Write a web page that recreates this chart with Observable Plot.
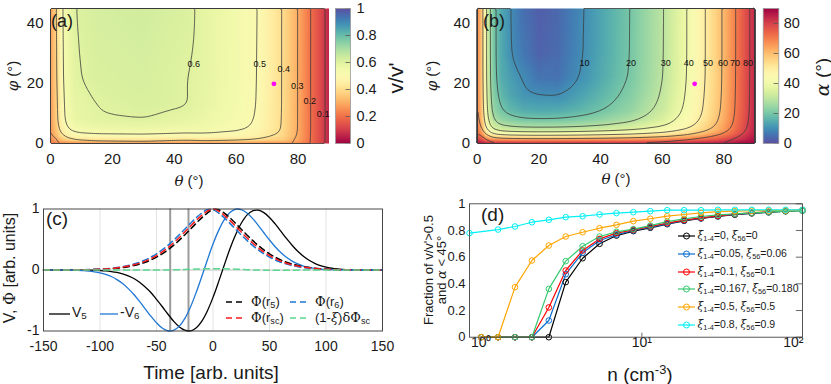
<!DOCTYPE html>
<html><head><meta charset="utf-8">
<script src="https://cdn.jsdelivr.net/npm/d3@7"></script>
<script src="https://cdn.jsdelivr.net/npm/@observablehq/plot@0.6"></script>
<style>
body{margin:0;background:#fff;}
#root{position:relative;width:831px;height:384px;overflow:hidden;background:#fff;font-family:'Liberation Sans',Arial,Helvetica,sans-serif;color:#1a1a1a;}
.abs{position:absolute;white-space:nowrap;line-height:1;}
.c{transform:translate(-50%,-50%);}
.r{transform:translate(-50%,-50%) rotate(-90deg);}
.lv{transform:translateY(-50%);}
.g{font-family:'DejaVu Serif','Liberation Serif',serif;}
.gi{font-family:'DejaVu Serif','Liberation Serif',serif;font-style:italic;}
sub{font-size:0.7em;vertical-align:-0.25em;line-height:0}
sup{font-size:0.68em;vertical-align:0.5em;line-height:0}
</style></head><body><div id="root"></div><script>
// ---------- panel (a): v/v' on a (theta, phi) grid ----------
const thetaA = [0,1,2,3.5,5,8,15,30,44,50,60,67,75,80,84,88,90];
const phiA = [0,0.5,1,2.5,5,8,13,22,45];
const vA = [
 [0.20,0.22,0.235,0.255,0.265,0.272,0.281,0.284,0.275,0.279,0.279,0.279,0.275,0.257,0.196,0.11,0.06],
 [0.21,0.24,0.255,0.27,0.28,0.29,0.30,0.303,0.294,0.299,0.299,0.298,0.292,0.267,0.197,0.11,0.06],
 [0.23,0.27,0.29,0.33,0.355,0.384,0.397,0.401,0.389,0.398,0.395,0.389,0.359,0.292,0.20,0.11,0.06],
 [0.25,0.30,0.33,0.40,0.444,0.484,0.500,0.506,0.490,0.498,0.483,0.461,0.390,0.299,0.20,0.11,0.06],
 [0.26,0.315,0.36,0.45,0.50,0.545,0.563,0.569,0.551,0.548,0.521,0.486,0.397,0.30,0.20,0.11,0.06],
 [0.267,0.324,0.371,0.476,0.528,0.576,0.595,0.602,0.583,0.566,0.533,0.493,0.399,0.30,0.20,0.11,0.06],
 [0.269,0.327,0.375,0.481,0.534,0.582,0.601,0.615,0.603,0.578,0.541,0.498,0.40,0.30,0.20,0.11,0.06],
 [0.275,0.334,0.383,0.492,0.546,0.595,0.614,0.621,0.602,0.584,0.544,0.50,0.40,0.30,0.20,0.11,0.06],
 [0.28,0.34,0.39,0.50,0.555,0.605,0.625,0.632,0.612,0.585,0.545,0.502,0.40,0.30,0.20,0.11,0.06]
];
const levelsA = [0.1,0.2,0.3,0.4,0.5,0.6];
const labelThetaA = [46.3,67.6,75.4,79.7,83.8,88.1];
const labelPhiA = [26.3,26.6,24.7,19.1,14.2,9.8];
const labelTextA = ["0.6","0.5","0.4","0.3","0.2","0.1"];
const markA = {theta: 72.2, phi: 19.9};

// ---------- panel (b): alpha on a (theta, phi) grid ----------
const thetaB = [0,1,2.2,2.7,3.8,5.4,8,10.8,15,20,26,34.6,42,49.7,55,60.7,68.1,74,79.5,83.8,88.1,90];
const phiB = [0,0.3,1,1.7,2.6,3.4,4.8,7.8,11,15.8,22,30,45];
const alphaB = [
 [88.1,87.7,86.8,86.2,85.7,85.3,85.1,85.1,85.0,85.0,85.0,85.1,85.2,85.3,85.5,85.7,86.2,86.8,87.5,88.3,89.1,89.5],
 [86.3,85.3,83.6,82.4,81.4,80.6,80.3,80.2,80.0,80.0,80.0,80.2,80.3,80.6,80.9,81.4,82.4,83.6,85.0,86.6,88.3,89.0],
 [82.6,80.8,77.3,74.8,72.8,71.3,70.6,70.3,70.1,70.0,70.1,70.3,70.7,71.3,71.9,72.8,74.8,77.3,80.2,83.3,86.6,88.0],
 [79.2,76.4,71.3,67.5,64.3,62.0,61.0,60.5,60.1,60.0,60.1,60.5,61.1,62.0,63.1,64.3,67.5,71.3,75.5,80.2,85.0,87.0],
 [76.1,72.4,65.6,60.5,56.2,52.8,51.4,50.7,50.2,50.0,50.1,50.7,51.6,52.8,54.4,56.2,60.5,65.6,71.3,77.3,83.6,86.1],
 [73.3,68.9,60.5,54.1,48.4,44.0,42.0,41.0,40.3,40.1,40.2,41.0,42.3,44.0,46.0,48.4,54.1,60.5,67.5,74.8,82.4,85.4],
 [71.1,66.0,56.2,48.4,41.4,35.5,32.8,31.5,30.4,30.1,30.3,31.5,33.2,35.5,38.3,41.4,48.4,56.2,64.3,72.8,81.4,84.8],
 [69.4,63.8,52.8,44.0,35.5,28.0,24.2,22.3,20.6,20.2,20.4,22.3,24.8,28.0,31.6,35.5,44.0,52.8,62.0,71.3,80.6,84.4],
 [68.7,62.9,51.4,42.0,32.8,24.2,19.7,17.1,14.9,14.2,14.6,17.1,20.4,24.2,28.4,32.8,42.0,51.4,61.0,70.6,80.3,84.2],
 [68.3,62.4,50.7,40.9,31.3,22.1,16.9,13.8,11.3,10.2,9.9,13.8,17.7,22.1,26.6,31.3,40.9,50.7,60.4,70.3,80.1,84.1],
 [68.1,62.1,50.1,40.2,30.3,20.5,14.7,12.5,9.5,6.0,5.5,11.0,15.7,20.5,25.4,30.3,40.2,50.1,60.1,70.1,80.0,84.0],
 [68.0,62.0,50.0,40.0,30.1,20.1,14.1,10.2,6.5,3.2,4.5,10.2,15.1,20.1,25.1,30.1,40.0,50.0,60.0,70.0,80.0,84.0],
 [68,62,50,40,30,20,14,10,5,2.5,4,10,15,20,25,30,40,50,60,70,80,84]
];
const levelsB = [10,20,30,40,50,60,70,80];
const labelThetaB = [34.8,49.9,61.1,68.6,74.8,79.7,83.6,87.8];
const labelPhiB = 26.8;
const labelTextB = ["10","20","30","40","50","60","70","80"];
const markB = {theta: 70.5, phi: 19.9};

const thetaTicks = [0,20,40,60,80];
const phiTicks = [0,20,40];
const cbTicksA = [0,0.2,0.4,0.6,0.8,1];
const cbTicksB = [0,20,40,60,80];

// ---------- panel (c): time series ----------
const time = [-150,-145,-140,-135,-130,-125,-120,-115,-110,-105,-100,-95,-90,-85,-80,-75,-70,-65,-60,-55,-50,-45,-40,-35,-30,-25,-20,-15,-10,-5,0,5,10,15,20,25,30,35,40,45,50,55,60,65,70,75,80,85,90,95,100,105,110,115,120,125,130,135,140,145,150];
const V5 = [0,0,0,0,0,0,-0.001,-0.0015,-0.003,-0.005,-0.009,-0.015,-0.025,-0.040,-0.063,-0.096,-0.140,-0.201,-0.279,-0.368,-0.481,-0.598,-0.721,-0.836,-0.929,-0.986,-0.998,-0.950,-0.841,-0.671,-0.449,-0.191,0.082,0.349,0.577,0.766,0.90,0.97,0.98,0.94,0.86,0.755,0.637,0.517,0.406,0.307,0.226,0.160,0.110,0.073,0.047,0.030,0.018,0.011,0.006,0.003,0.002,0.001,0,0,0];
const negV6 = [0,0,-0.001,-0.001,-0.002,-0.004,-0.006,-0.010,-0.017,-0.029,-0.046,-0.071,-0.107,-0.158,-0.222,-0.305,-0.401,-0.515,-0.636,-0.757,-0.866,-0.951,-0.996,-0.990,-0.924,-0.796,-0.609,-0.374,-0.110,0.164,0.425,0.650,0.826,0.942,0.996,0.990,0.936,0.846,0.733,0.611,0.492,0.382,0.286,0.208,0.146,0.099,0.065,0.042,0.026,0.015,0.009,0.005,0.003,0.001,0,0,0,0,0,0,0];
const phiR5 = [0,0,0.001,0.001,0.001,0.002,0.003,0.0035,0.005,0.007,0.011,0.015,0.021,0.029,0.040,0.055,0.074,0.098,0.128,0.165,0.211,0.265,0.329,0.403,0.485,0.575,0.669,0.764,0.855,0.933,0.988,0.988,0.933,0.855,0.764,0.669,0.575,0.485,0.403,0.329,0.265,0.211,0.165,0.128,0.098,0.074,0.055,0.040,0.029,0.021,0.015,0.011,0.007,0.005,0.0035,0.003,0.002,0.001,0.001,0.001,0];
const phiR6 = [0,0.001,0.001,0.001,0.002,0.003,0.0035,0.005,0.007,0.011,0.015,0.021,0.029,0.040,0.055,0.074,0.098,0.128,0.165,0.211,0.265,0.329,0.403,0.485,0.575,0.669,0.764,0.855,0.933,0.988,0.988,0.933,0.855,0.764,0.669,0.575,0.485,0.403,0.329,0.265,0.211,0.165,0.128,0.098,0.074,0.055,0.040,0.029,0.021,0.015,0.011,0.007,0.005,0.0035,0.003,0.002,0.001,0.001,0.001,0,0];
const phiRsc = [0,0,0.001,0.001,0.0015,0.002,0.003,0.004,0.006,0.009,0.013,0.018,0.025,0.035,0.047,0.064,0.085,0.112,0.145,0.187,0.237,0.296,0.365,0.443,0.529,0.622,0.717,0.811,0.896,0.965,1.0,0.965,0.896,0.811,0.717,0.622,0.529,0.443,0.365,0.296,0.237,0.187,0.145,0.112,0.085,0.064,0.047,0.035,0.025,0.018,0.013,0.009,0.006,0.004,0.003,0.002,0.0015,0.001,0.001,0,0];
const dPhiSc = [0,0,0,0,0,0,0,0,0,0,0,0,0,0,0,0,0,0,0,0,0,0,0.002,0.004,0.006,0.009,0.012,0.015,0.018,0.02,0.022,0.022,0.02,0.018,0.014,0.01,0.006,0.002,-0.001,-0.003,-0.004,-0.005,-0.005,-0.004,-0.003,-0.002,-0.001,0,0,0,0,0,0,0,0,0,0,0,0,0,0];
const timeTicks = [-150,-100,-50,0,50,100,150];
const timeGrid = [-100,-50,0,50,100];
const markerTimes = [-37.9,-21.7];

// ---------- panel (d): fraction vs density ----------
const nVals = [1,1.274,1.624,2.069,2.637,3.360,4.281,5.456,6.952,8.859,11.29,14.38,18.33,23.36,29.76,37.93,48.33,61.58,78.48,100];
const nCyan = [0.846,1.274,1.624,2.069,2.637,3.360,4.281,5.456,6.952,8.859,11.29,14.38,18.33,23.36,29.76,37.93,48.33,61.58,78.48,100];
const fBlack = [0,0,0,0,0,0.413,0.592,0.70,0.762,0.795,0.82,0.847,0.872,0.89,0.905,0.918,0.928,0.936,0.944,0.95];
const fBlue = [0,0,0,0,0.125,0.472,0.633,0.725,0.768,0.80,0.825,0.85,0.875,0.892,0.907,0.92,0.93,0.937,0.945,0.95];
const fRed = [0,0,0,0,0.223,0.50,0.65,0.737,0.78,0.805,0.83,0.855,0.878,0.895,0.91,0.922,0.932,0.94,0.946,0.95];
const fGreen = [0,0,0,0,0.362,0.57,0.682,0.755,0.79,0.81,0.837,0.867,0.887,0.905,0.917,0.925,0.932,0.937,0.945,0.947];
const fOrange = [0,0,0.375,0.575,0.687,0.755,0.787,0.817,0.842,0.87,0.888,0.907,0.92,0.932,0.942,0.945,0.948,0.95,0.95,0.955];
const fCyan = [0.78,0.807,0.83,0.862,0.88,0.90,0.907,0.92,0.93,0.937,0.945,0.952,0.952,0.952,0.955,0.955,0.955,0.955,0.955,0.955];
const xi14 = ["0","0.05","0.1","0.167","0.5","0.8"];
const xi56 = ["0","0.06","0.1","0.180","0.5","0.9"];
const seriesColors = ["#000000","#0a6fd0","#ff0000","#34c96f","#ffa500","#00f0f5"];
const fracTicks = [0,0.2,0.4,0.6,0.8,1];
const decadeTicks = [1,10];
const decadeLabels = ["10\u2070","10\u00b9"];
const lastDecade = [100];

// ---------- helpers ----------
const root = document.getElementById("root");
const FONT = "'Liberation Sans', Arial, Helvetica, sans-serif";
function put(node, left, top) {
  node.style.position = "absolute"; node.style.left = left + "px"; node.style.top = top + "px";
  root.appendChild(node); return node;
}
function label(html, x, y, cls, size, extra) {
  const d = document.createElement("div");
  d.className = "abs " + cls; d.innerHTML = html;
  d.style.left = x + "px"; d.style.top = y + "px"; d.style.fontSize = size + "px";
  if (extra) d.style.cssText += extra;
  root.appendChild(d);
}
function sample(x1, x2, y, color, dash, circle, width) {
  const ns = "http://www.w3.org/2000/svg";
  const s = document.createElementNS(ns, "svg");
  s.setAttribute("width", x2 - x1 + 8); s.setAttribute("height", 12);
  s.style.position = "absolute"; s.style.left = (x1 - 4) + "px"; s.style.top = (y - 6) + "px"; s.style.overflow = "visible";
  const l = document.createElementNS(ns, "line");
  l.setAttribute("x1", 4); l.setAttribute("x2", x2 - x1 + 4); l.setAttribute("y1", 6); l.setAttribute("y2", 6);
  l.setAttribute("stroke", color); l.setAttribute("stroke-width", width || 1.4);
  if (dash) l.setAttribute("stroke-dasharray", dash);
  s.appendChild(l);
  if (circle) {
    const c = document.createElementNS(ns, "circle");
    c.setAttribute("cx", (x2 - x1) / 2 + 4); c.setAttribute("cy", 6); c.setAttribute("r", 3);
    c.setAttribute("fill", "none"); c.setAttribute("stroke", color); c.setAttribute("stroke-width", 1);
    s.appendChild(c);
  }
  root.appendChild(s);
}
const baseStyle = (size) => ({fontFamily: FONT, fontSize: size + "px", color: "#1a1a1a", background: "transparent", overflow: "visible"});

// ---------- build (a) ----------
const gridA = phiA.flatMap((p, i) => thetaA.map((t, j) => ({theta: t, phi: p, v: vA[i][j]})));
const labelsA = labelTextA.map((s, i) => ({theta: labelThetaA[i], phi: labelPhiA[i], label: s}));
const plotA = Plot.plot({
  width: 335, height: 195, marginLeft: 50, marginRight: 6.5, marginTop: 8, marginBottom: 52,
  style: baseStyle(15),
  x: {domain: [0, 90], ticks: thetaTicks, tickSize: 0, tickPadding: 10, label: null},
  y: {domain: [0, 45], ticks: phiTicks, tickSize: 0, tickPadding: 7, label: null},
  color: {type: "linear", scheme: "spectral", domain: [0, 1]},
  marks: [
    Plot.raster(gridA, {x: "theta", y: "phi", fill: "v", interpolate: "barycentric", x1: 0, x2: 90, y1: 0, y2: 45}),
    Plot.contour(gridA, {x: "theta", y: "phi", value: "v", interpolate: "barycentric", blur: 2, thresholds: levelsA, x1: 0, x2: 90, y1: 0, y2: 45, stroke: "#3a3a3a", strokeWidth: 0.8, fill: "none"}),
    Plot.text(labelsA, {x: "theta", y: "phi", text: "label", fontSize: 9, fill: "#111"}),
    Plot.dot([markA], {x: "theta", y: "phi", fill: "#ff00ff", r: 2.4})
  ]
});
put(plotA, 0, 0);

const cbA = Plot.plot({
  width: 90, height: 195, marginLeft: 5, marginRight: 70, marginTop: 8, marginBottom: 52,
  style: baseStyle(14.5),
  x: {domain: [0, 1], axis: null},
  y: {domain: [0, 1], axis: "right", ticks: cbTicksA, tickFormat: d => String(d), tickSize: 0, tickPadding: 6, label: null},
  color: {type: "linear", scheme: "spectral", domain: [0, 1]},
  marks: [
    Plot.raster({fill: (x, y) => y, x1: 0, x2: 1, y1: 0, y2: 1}),
    Plot.ruleY(cbTicksA, {x1: 0.7, x2: 1, stroke: "#555", strokeWidth: 0.8}),
    Plot.frame({stroke: "#999", strokeWidth: 0.8})
  ]
});
put(cbA, 330, 0);

// ---------- build (b) ----------
const gridB = phiB.flatMap((p, i) => thetaB.map((t, j) => ({theta: t, phi: p, a: alphaB[i][j]})));
const labelsB = labelTextB.map((s, i) => ({theta: labelThetaB[i], phi: labelPhiB, label: s}));
const plotB = Plot.plot({
  width: 340, height: 195, marginLeft: 56.7, marginRight: 5.7, marginTop: 8, marginBottom: 52,
  style: baseStyle(15),
  x: {domain: [0, 90], ticks: thetaTicks, tickSize: 0, tickPadding: 10, label: null},
  y: {domain: [0, 45], ticks: phiTicks, tickSize: 0, tickPadding: 7, label: null},
  color: {type: "linear", scheme: "spectral", reverse: true, domain: [0, 90]},
  marks: [
    Plot.raster(gridB, {x: "theta", y: "phi", fill: "a", interpolate: "barycentric", x1: 0, x2: 90, y1: 0, y2: 45}),
    Plot.contour(gridB, {x: "theta", y: "phi", value: "a", interpolate: "barycentric", blur: 2, thresholds: levelsB, x1: 0, x2: 90, y1: 0, y2: 45, stroke: "#3a3a3a", strokeWidth: 0.8, fill: "none"}),
    Plot.text(labelsB, {x: "theta", y: "phi", text: "label", fontSize: 9, fill: "#111"}),
    Plot.dot([markB], {x: "theta", y: "phi", fill: "#ff00ff", r: 2.4})
  ]
});
put(plotB, 420, 0);

const cbB = Plot.plot({
  width: 76, height: 195, marginLeft: 7.7, marginRight: 52.7, marginTop: 8, marginBottom: 52,
  style: baseStyle(14.5),
  x: {domain: [0, 1], axis: null},
  y: {domain: [0, 90], axis: "right", ticks: cbTicksB, tickSize: 0, tickPadding: 5, label: null},
  color: {type: "linear", scheme: "spectral", reverse: true, domain: [0, 90]},
  marks: [
    Plot.raster({fill: (x, y) => y, x1: 0, x2: 1, y1: 0, y2: 90}),
    Plot.ruleY(cbTicksB, {x1: 0.7, x2: 1, stroke: "#555", strokeWidth: 0.8}),
    Plot.frame({stroke: "#999", strokeWidth: 0.8})
  ]
});
put(cbB, 755, 0);

// ---------- build (c) ----------
const ser = (arr) => time.map((t, i) => ({t, v: arr[i]}));
const plotC = Plot.plot({
  width: 420, height: 189, marginLeft: 43, marginRight: 38, marginTop: 13.5, marginBottom: 53.5,
  style: baseStyle(14),
  x: {domain: [-150, 150], ticks: timeTicks, tickFormat: d => String(d), tickSize: 0, tickPadding: 10, label: null},
  y: {domain: [-1, 1], ticks: [-1, 0, 1], tickFormat: d => String(d), tickSize: 0, tickPadding: 4, label: null},
  marks: [
    Plot.ruleX(timeGrid, {stroke: "#e3e3e3"}),
    Plot.ruleY([0], {stroke: "#c2c2c2"}),
    Plot.ruleX(markerTimes, {stroke: "#9c9c9c", strokeWidth: 2}),
    Plot.line(ser(V5), {x: "t", y: "v", stroke: "#000", strokeWidth: 1.3, curve: "catmull-rom"}),
    Plot.line(ser(negV6), {x: "t", y: "v", stroke: "#1f77d4", strokeWidth: 1.3, curve: "catmull-rom"}),
    Plot.line(ser(phiR5), {x: "t", y: "v", stroke: "#000", strokeWidth: 1.5, strokeDasharray: "6,4", curve: "catmull-rom"}),
    Plot.line(ser(phiR6), {x: "t", y: "v", stroke: "#1f77d4", strokeWidth: 1.5, strokeDasharray: "6,4", curve: "catmull-rom"}),
    Plot.line(ser(phiRsc), {x: "t", y: "v", stroke: "#ff1a1a", strokeWidth: 1.5, strokeDasharray: "6,4", curve: "catmull-rom"}),
    Plot.line(ser(dPhiSc), {x: "t", y: "v", stroke: "#5ad68e", strokeWidth: 1.5, strokeDasharray: "6,4", curve: "catmull-rom"}),
    Plot.frame({stroke: "#333", strokeWidth: 0.9})
  ]
});
put(plotC, 0, 195);

// ---------- build (d) ----------
const fracSeries = [fBlack, fBlue, fRed, fGreen, fOrange, fCyan];
const dataD = fracSeries.flatMap((arr, s) => arr.map((f, k) => ({n: s === 5 ? nCyan[k] : nVals[k], f, s})));
const plotD = Plot.plot({
  width: 411, height: 189, marginLeft: 49, marginRight: 29, marginTop: 8.3, marginBottom: 47.3,
  style: baseStyle(13),
  x: {type: "log", domain: [0.846, 100], axis: null},
  y: {domain: [0, 1], ticks: fracTicks, tickFormat: d => String(d), tickSize: 0, tickPadding: 4, label: null},
  color: {domain: [0, 1, 2, 3, 4, 5], range: seriesColors},
  marks: [
    Plot.ruleY(fracTicks, {x1: 91.5, x2: 100, stroke: "#444", strokeWidth: 0.8}),
    Plot.ruleX([10], {y1: 0, y2: 0.03, stroke: "#444", strokeWidth: 0.8}),
    Plot.line(dataD, {x: "n", y: "f", z: "s", stroke: "s", strokeWidth: 1.2}),
    Plot.dot(dataD, {x: "n", y: "f", stroke: "s", r: 2.8, strokeWidth: 1}),
    Plot.text(decadeTicks, {x: d => d, frameAnchor: "bottom", dy: 10, text: (d, i) => decadeLabels[i], fontSize: 14}),
    Plot.text(lastDecade, {x: d => d, frameAnchor: "bottom", dy: 10, dx: 1, textAnchor: "end", text: () => "10\u00b2", fontSize: 14}),
    Plot.frame({stroke: "#444", strokeWidth: 0.9})
  ]
});
put(plotD, 420, 195);

// ---------- text overlays ----------
label("(a)", 51, 12, "", 18);
label("(b)", 483, 12, "", 18);
label('<span class="gi">θ</span> (°)', 189, 181, "c", 15);
label('<span class="gi">θ</span> (°)', 616, 179, "c", 15);
label('<span class="gi">φ</span> (°)', 13, 76, "r", 15);
label('<span class="gi">φ</span> (°)', 432, 76, "r", 15);
label("v/v'", 395, 78, "r", 21);
label('<span class="gi">α</span> (°)', 822, 77, "r", 19);

label("(c)", 46, 209, "", 19);
label("(d)", 481, 205, "", 19);
label('V, <span class="g">Φ</span> [arb. units]', 10, 268, "r", 16);
label("Time [arb. units]", 211, 372, "c", 19);
label('n (cm<sup>-3</sup>)', 640, 374, "c", 19);
label("Fraction of v/v'&gt;0.5", 428, 270, "r", 13);
label('and <span class="gi">α</span> &lt; 45°', 441, 270, "r", 13);

// legend (c)
sample(49, 70, 313.5, "#000", null, false, 1.3);
label('V<sub>5</sub>', 72, 312, "lv", 14);
sample(100, 118, 313.5, "#1f77d4", null, false, 1.3);
label('-V<sub>6</sub>', 120, 312, "lv", 14);
sample(226, 246, 301.5, "#000", "6,4", false, 1.5);
label('<span class="g">Φ</span>(r<sub>5</sub>)', 251, 300.5, "lv", 13);
sample(226, 246, 317.5, "#ff1a1a", "6,4", false, 1.5);
label('<span class="g">Φ</span>(r<sub>sc</sub>)', 251, 317, "lv", 13);
sample(290, 310, 301.5, "#1f77d4", "6,4", false, 1.5);
label('<span class="g">Φ</span>(r<sub>6</sub>)', 315, 300.5, "lv", 13);
sample(290, 310, 317.5, "#5ad68e", "6,4", false, 1.5);
label('(1-<span class="gi">ξ</span>)<span class="g">δΦ</span><sub>sc</sub>', 315, 317, "lv", 13);

// legend (d)
const legY = [236, 253.8, 271.6, 289.4, 307.2, 325];
xi14.forEach((a, i) => {
  sample(678, 695, legY[i], seriesColors[i], null, true, 1.2);
  label('<span class="gi">ξ</span><sub>1-4</sub>=' + a + ', <span class="gi">ξ</span><sub>56</sub>=' + xi56[i], 697.5, legY[i] - 1, "lv", 10.5);
});
</script></body></html>
